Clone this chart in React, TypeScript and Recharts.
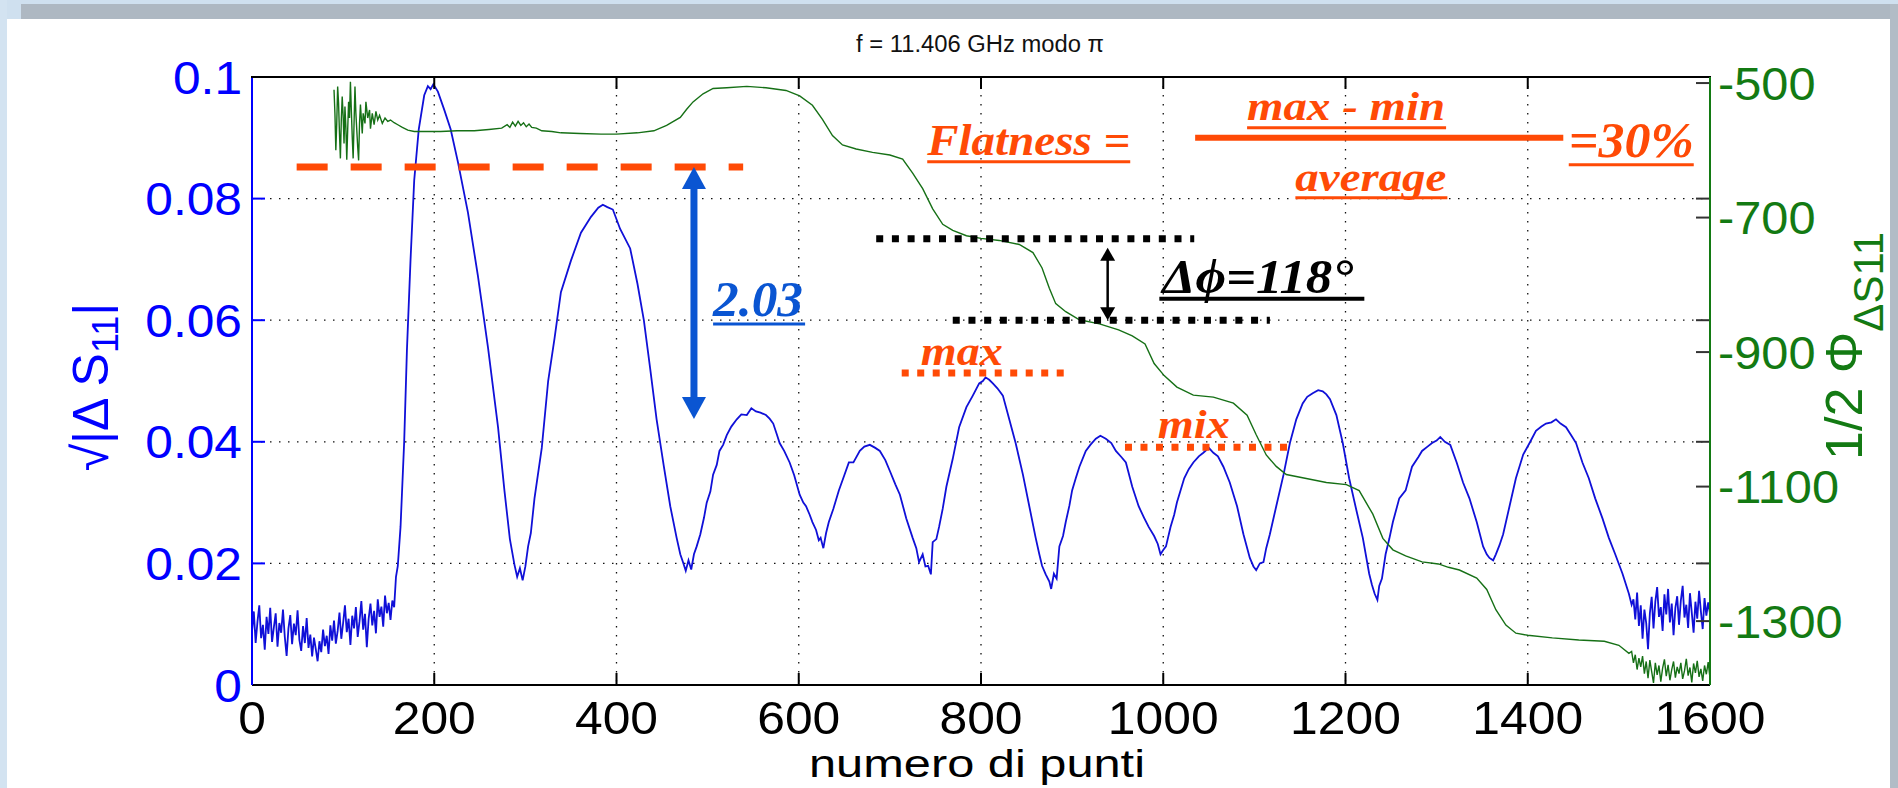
import React from "react";
import {
  LineChart,
  Line,
  XAxis,
  YAxis,
  CartesianGrid,
  ReferenceLine,
  ReferenceDot,
} from "recharts";

const W = 1898;
const H = 788;
const PLOT = { left: 252, right: 1710, top: 77, bottom: 685 };
const LEFT_AXIS_W = 100;
const RIGHT_AXIS_W = 100;
const X_AXIS_H = 60;

const SANS = "'Liberation Sans', Arial, Helvetica, sans-serif";
const SERIF = "'Liberation Serif', 'Times New Roman', serif";
const ORANGE = "#FF4A06";
const ARROW_BLUE = "#0A55D2";
const AX_BLUE = "#0000FF";
const AX_GREEN = "#137A13";

// axes
const xDomain = [0, 1600];
const xTicks = [0, 200, 400, 600, 800, 1000, 1200, 1400, 1600];
const leftDomain = [0, 0.1];
const leftTicks = [0, 0.02, 0.04, 0.06, 0.08, 0.1];
const rightTicks = [-1300, -1100, -900, -700, -500];
const rightDomain = [-1395, -491];

// sqrt|dS11| (punto, valore)
const blueX = [
  0, 2, 4, 6, 8, 10, 12, 14, 16, 18, 20, 22, 24, 26, 28, 30, 32, 34, 36, 38, 40, 42, 44, 46, 48, 50,
  52, 54, 56, 58, 60, 62, 64, 66, 68, 70, 72, 74, 76, 78, 80, 82, 84, 86, 88, 90, 92, 94, 96, 98, 100,
  102, 104, 106, 108, 110, 112, 114, 116, 118, 120, 122, 124, 126, 128, 130, 132, 134, 136, 138, 140,
  142, 144, 146, 148, 150, 152, 154, 156, 158, 160, 163, 167, 170, 174, 178, 183, 189, 193, 196, 199,
  204, 211, 218, 226, 237, 248, 259, 270, 277, 283, 288, 291, 294, 297, 300, 303, 306, 310, 318, 325,
  332, 339, 350, 361, 372, 380, 385, 390, 396, 404, 415, 423, 430, 437, 444, 452, 459, 466, 470, 473,
  476, 479, 482, 485, 488, 492, 496, 499, 503, 506, 510, 513, 517, 521, 526, 532, 537, 543, 548, 553,
  558, 564, 568, 572, 576, 579, 584, 590, 595, 601, 605, 608, 612, 615, 619, 622, 624, 627, 630, 633,
  638, 644, 650, 655, 660, 667, 672, 678, 684, 689, 695, 700, 706, 711, 718, 725, 729, 732, 736, 739,
  742, 745, 747, 751, 754, 758, 762, 769, 776, 784, 791, 798, 802, 805, 809, 813, 818, 824, 831, 838,
  846, 853, 860, 864, 867, 871, 875, 877, 880, 883, 886, 890, 893, 897, 900, 904, 908, 915, 920, 926,
  931, 937, 943, 948, 954, 959, 966, 973, 979, 984, 990, 994, 997, 1000, 1003, 1008, 1012, 1015, 1023,
  1028, 1033, 1039, 1044, 1050, 1055, 1060, 1066, 1073, 1081, 1088, 1095, 1099, 1102, 1106, 1110, 1113,
  1117, 1124, 1132, 1139, 1146, 1153, 1158, 1164, 1170, 1175, 1179, 1183, 1190, 1197, 1204, 1212, 1219,
  1226, 1229, 1232, 1235, 1237, 1240, 1244, 1248, 1252, 1259, 1266, 1273, 1280, 1284, 1290, 1295, 1300,
  1304, 1309, 1315, 1322, 1329, 1336, 1344, 1351, 1355, 1358, 1362, 1365, 1369, 1373, 1380, 1387, 1395,
  1402, 1409, 1415, 1420, 1426, 1431, 1436, 1442, 1448, 1453, 1460, 1467, 1474, 1482, 1489, 1496, 1504,
  1511, 1514, 1516, 1518, 1520, 1522, 1524, 1526, 1528, 1530, 1532, 1534, 1536, 1538, 1540, 1542, 1544,
  1546, 1548, 1550, 1552, 1554, 1556, 1558, 1560, 1562, 1564, 1566, 1568, 1570, 1572, 1574, 1576, 1578,
  1580, 1582, 1584, 1586, 1588, 1590, 1592, 1594, 1596, 1598, 1600,
];
const blueY = [
  0.0088, 0.0121, 0.0069, 0.0104, 0.0131, 0.0077, 0.0099, 0.0058, 0.0112, 0.0084, 0.0127, 0.0071,
  0.0095, 0.0118, 0.0063, 0.0102, 0.0086, 0.0124, 0.0079, 0.0048, 0.0093, 0.0115, 0.0067, 0.0101,
  0.0082, 0.0123, 0.0074, 0.0056, 0.0097, 0.0069, 0.011, 0.0061, 0.0083, 0.0047, 0.0078, 0.0059,
  0.0039, 0.0072, 0.0054, 0.0091, 0.0064, 0.0081, 0.0051, 0.0098, 0.0073, 0.0106, 0.0068, 0.0089,
  0.0119, 0.0076, 0.0102, 0.0131, 0.0087, 0.0109, 0.0066, 0.0114, 0.0093, 0.0128, 0.0079, 0.0105,
  0.0138, 0.0091, 0.0117, 0.0062, 0.0109, 0.0134, 0.0098, 0.0122, 0.0085, 0.0141, 0.0112, 0.0129,
  0.0096, 0.0147, 0.0118, 0.0135, 0.0107, 0.0139, 0.0128, 0.0178, 0.0196, 0.026, 0.04, 0.055, 0.07,
  0.083, 0.0914, 0.097, 0.0985, 0.098, 0.0988, 0.0976, 0.0946, 0.0914, 0.086, 0.0777, 0.0672, 0.0555,
  0.0424, 0.032, 0.024, 0.0198, 0.0178, 0.0192, 0.0172, 0.0195, 0.0228, 0.025, 0.0307, 0.039, 0.05,
  0.057, 0.0646, 0.0698, 0.0744, 0.077, 0.0785, 0.079, 0.0786, 0.0782, 0.075, 0.0718, 0.066, 0.06,
  0.052, 0.0437, 0.0359, 0.0294, 0.0242, 0.0215, 0.0202, 0.0188, 0.0205, 0.019, 0.0215, 0.0228,
  0.0248, 0.0275, 0.03, 0.0318, 0.0346, 0.0362, 0.0385, 0.0395, 0.0411, 0.0425, 0.0437, 0.0445,
  0.0444, 0.0455, 0.045, 0.0448, 0.0444, 0.0438, 0.043, 0.0412, 0.0398, 0.0385, 0.0366, 0.0345,
  0.0313, 0.03, 0.0294, 0.028, 0.0268, 0.0255, 0.0238, 0.0242, 0.0225, 0.025, 0.0268, 0.029, 0.032,
  0.0345, 0.0366, 0.0366, 0.0385, 0.0392, 0.0395, 0.039, 0.0385, 0.037, 0.0352, 0.033, 0.0313, 0.0274,
  0.0242, 0.0225, 0.0202, 0.0215, 0.0195, 0.0196, 0.0182, 0.0235, 0.024, 0.026, 0.029, 0.0326, 0.0372,
  0.0424, 0.0457, 0.0476, 0.0496, 0.05, 0.0506, 0.0502, 0.0496, 0.0488, 0.0476, 0.0437, 0.0398, 0.0346,
  0.0294, 0.0242, 0.0215, 0.0196, 0.0182, 0.017, 0.0158, 0.0183, 0.0175, 0.0228, 0.0245, 0.0268,
  0.0295, 0.032, 0.034, 0.0359, 0.0385, 0.0395, 0.0405, 0.041, 0.0405, 0.0398, 0.0385, 0.0375, 0.0366,
  0.0326, 0.0294, 0.0275, 0.026, 0.0245, 0.0232, 0.0215, 0.0222, 0.0228, 0.026, 0.028, 0.03, 0.034,
  0.0355, 0.0366, 0.0376, 0.0382, 0.039, 0.0382, 0.0376, 0.0359, 0.0333, 0.0294, 0.0248, 0.0209,
  0.0195, 0.0189, 0.02, 0.0202, 0.0225, 0.0248, 0.0294, 0.0346, 0.0398, 0.0437, 0.0463, 0.0474, 0.048,
  0.0485, 0.0483, 0.0478, 0.047, 0.0444, 0.0398, 0.034, 0.0287, 0.0242, 0.0183, 0.0165, 0.015, 0.014,
  0.0163, 0.0175, 0.0215, 0.024, 0.0268, 0.0307, 0.032, 0.0359, 0.0375, 0.0385, 0.0392, 0.0398, 0.0402,
  0.0408, 0.04, 0.0395, 0.0366, 0.0333, 0.0307, 0.0268, 0.0228, 0.0215, 0.0209, 0.0205, 0.0215, 0.023,
  0.0248, 0.0294, 0.034, 0.0379, 0.0398, 0.0418, 0.0425, 0.043, 0.0432, 0.0437, 0.043, 0.0424, 0.041,
  0.0398, 0.0366, 0.034, 0.0307, 0.0274, 0.0242, 0.0215, 0.0183, 0.015, 0.0132, 0.0141, 0.0108, 0.0152,
  0.0097, 0.0131, 0.0076, 0.0124, 0.0102, 0.0059, 0.0118, 0.0145, 0.0093, 0.0137, 0.0161, 0.0112,
  0.0128, 0.0089, 0.0149, 0.0116, 0.0158, 0.0103, 0.0134, 0.0082, 0.0127, 0.0146, 0.0099, 0.0139,
  0.0163, 0.0111, 0.0132, 0.0094, 0.0151, 0.0119, 0.0086, 0.0137, 0.0109, 0.0155, 0.0121, 0.0092,
  0.0143, 0.0114, 0.0136, 0.0118,
];

// 1/2 fase (punto, gradi)
const greenX = [
  90, 91, 92, 93, 94, 95, 96, 97, 98, 99, 100, 101, 102, 103, 104, 105, 106, 107, 108, 109, 110, 111,
  112, 113, 114, 116, 117, 118, 119, 121, 122, 124, 125, 127, 129, 130, 132, 134, 136, 138, 140, 143,
  146, 149, 152, 156, 160, 165, 171, 178, 190, 207, 225, 244, 260, 274, 280, 283, 286, 289, 292, 295,
  298, 301, 304, 307, 312, 318, 329, 339, 360, 383, 400, 423, 441, 455, 470, 477, 484, 495, 506, 521,
  543, 564, 586, 601, 615, 626, 637, 648, 663, 681, 700, 714, 725, 736, 747, 758, 769, 784, 800, 820,
  842, 857, 867, 875, 882, 893, 908, 930, 951, 966, 980, 990, 1001, 1015, 1033, 1055, 1077, 1092, 1102,
  1113, 1124, 1135, 1157, 1179, 1201, 1215, 1230, 1241, 1252, 1266, 1284, 1302, 1313, 1325, 1344, 1355,
  1365, 1376, 1387, 1400, 1427, 1456, 1484, 1500, 1511, 1514, 1516, 1518, 1520, 1522, 1524, 1526, 1528,
  1530, 1532, 1534, 1536, 1538, 1540, 1542, 1544, 1546, 1548, 1550, 1552, 1554, 1556, 1558, 1560, 1562,
  1564, 1566, 1568, 1570, 1572, 1574, 1576, 1578, 1580, 1582, 1584, 1586, 1588, 1590, 1592, 1594, 1596,
  1598, 1600,
];
const greenY = [
  -510, -545, -600, -560, -505, -530, -575, -612, -555, -520, -548, -590, -535, -565, -614, -570, -528,
  -552, -498, -540, -580, -612, -560, -505, -545, -595, -615, -560, -532, -575, -545, -560, -528, -552,
  -540, -568, -545, -562, -542, -555, -548, -560, -552, -557, -555, -559, -562, -566, -570, -572, -572,
  -572, -571, -571, -569, -567, -562, -566, -558, -564, -557, -563, -559, -565, -561, -566, -567, -571,
  -572, -574, -575, -576, -576, -574, -571, -563, -551, -539, -528, -516, -508, -507, -505, -507, -511,
  -519, -533, -554, -578, -592, -598, -603, -607, -613, -634, -657, -687, -710, -719, -727, -731, -734,
  -740, -752, -775, -805, -828, -840, -852, -858, -867, -876, -888, -917, -935, -952, -964, -967, -976,
  -994, -1023, -1053, -1070, -1082, -1088, -1094, -1097, -1106, -1141, -1177, -1194, -1203, -1212,
  -1215, -1220, -1224, -1236, -1253, -1283, -1306, -1318, -1321, -1325, -1328, -1330, -1336, -1348,
  -1345, -1362, -1350, -1372, -1355, -1368, -1352, -1378, -1360, -1385, -1358, -1375, -1392, -1362,
  -1380, -1366, -1390, -1370, -1357, -1382, -1365, -1388, -1372, -1360, -1384, -1368, -1378, -1362,
  -1386, -1374, -1356, -1381, -1369, -1391, -1363, -1377, -1359, -1383, -1371, -1389, -1366, -1379,
  -1361, -1385, -1374,
];

// linear positions along the plot box, for the box ticks only
const lerp = (v: number, d: number[], a: number, b: number) => a + ((v - d[0]) / (d[1] - d[0])) * (b - a);
const boxX = (v: number) => lerp(v, xDomain, PLOT.left, PLOT.right);
const boxYL = (v: number) => lerp(v, leftDomain, PLOT.bottom, PLOT.top);
const boxYR = (v: number) => lerp(v, rightDomain, PLOT.bottom, PLOT.top);

const LeftTick = ({ x, y, payload }: any) => (
  <text
    transform={`translate(${x},${y}) scale(1.08,1)`}
    textAnchor="end"
    dy="0.36em"
    fill={AX_BLUE}
    fontSize={46}
    fontFamily={SANS}
  >
    {payload.value}
  </text>
);

const RightTick = ({ x, y, payload }: any) => (
  <text
    transform={`translate(${x},${y}) scale(1.06,1)`}
    textAnchor="start"
    dy="0.36em"
    fill={AX_GREEN}
    fontSize={46}
    fontFamily={SANS}
  >
    {payload.value}
  </text>
);

const BottomTick = ({ x, y, payload }: any) => (
  <text
    transform={`translate(${x},${y + 34}) scale(1.06,1)`}
    textAnchor="middle"
    fill="#000"
    fontSize={47}
    fontFamily={SANS}
  >
    {payload.value}
  </text>
);

const annoText =
  (text: string, size: number, width: number, color: string, under?: [number, number, number, number]) =>
  (p: any) =>
    (
      <g>
        <text
          x={p.cx}
          y={p.cy}
          fontFamily={SERIF}
          fontWeight="bold"
          fontStyle="italic"
          fontSize={size}
          fill={color}
          textLength={width}
          lengthAdjust="spacingAndGlyphs"
        >
          {text}
        </text>
        {under && (
          <line
            x1={p.cx + under[0]}
            x2={p.cx + under[1]}
            y1={p.cy + under[2]}
            y2={p.cy + under[2]}
            stroke={color}
            strokeWidth={under[3]}
          />
        )}
      </g>
    );

const doubleArrow = (color: string, shaft: number, headW: number, headL: number) => (p: any) => {
  const x = p.x1;
  const top = Math.min(p.y1, p.y2);
  const bot = Math.max(p.y1, p.y2);
  return (
    <g>
      <line x1={x} x2={x} y1={top + headL - 1} y2={bot - headL + 1} stroke={color} strokeWidth={shaft} />
      <polygon points={`${x},${top} ${x - headW},${top + headL} ${x + headW},${top + headL}`} fill={color} />
      <polygon points={`${x},${bot} ${x - headW},${bot - headL} ${x + headW},${bot - headL}`} fill={color} />
    </g>
  );
};

// MATLAB-style box: top edge plus inward ticks on all four sides
const Frame = () => (
  <g>
    <line x1={PLOT.left - 1} x2={PLOT.right + 1} y1={PLOT.top} y2={PLOT.top} stroke="#000" strokeWidth={2} />
    {xTicks.slice(1, -1).map((v) => (
      <g key={`x${v}`}>
        <line x1={boxX(v)} x2={boxX(v)} y1={PLOT.top} y2={PLOT.top + 12} stroke="#000" strokeWidth={2} />
        <line x1={boxX(v)} x2={boxX(v)} y1={PLOT.bottom} y2={PLOT.bottom - 12} stroke="#000" strokeWidth={2} />
      </g>
    ))}
    {leftTicks.slice(1, -1).map((v) => (
      <g key={`l${v}`}>
        <line x1={PLOT.left} x2={PLOT.left + 13} y1={boxYL(v)} y2={boxYL(v)} stroke={AX_BLUE} strokeWidth={2} />
        <line x1={PLOT.right} x2={PLOT.right - 14} y1={boxYL(v)} y2={boxYL(v)} stroke="#333" strokeWidth={2} />
      </g>
    ))}
    {rightTicks.map((v) => (
      <line key={`r${v}`} x1={PLOT.right} x2={PLOT.right - 14} y1={boxYR(v)} y2={boxYR(v)} stroke="#333" strokeWidth={2} />
    ))}
  </g>
);

const XTitle = () => (
  <text x={977} y={777} textAnchor="middle" fontSize={39} fontFamily={SANS} fill="#000" textLength={336} lengthAdjust="spacingAndGlyphs">
    numero di punti
  </text>
);

// left axis title + plot title + box
const LeftTitle = () => (
  <g>
    <Frame />
    <text x={980} y={52} textAnchor="middle" fontSize={23} fontFamily={SANS} fill="#111" textLength={248} lengthAdjust="spacingAndGlyphs">
      f = 11.406 GHz modo π
    </text>
    <text transform="translate(108,387) rotate(-90)" textAnchor="middle" fill={AX_BLUE} fontSize={50} fontFamily={SANS}>
      √|Δ S
      <tspan dy={10} fontSize={36}>
        11
      </tspan>
      <tspan dy={-10}>|</tspan>
    </text>
  </g>
);

const RightTitle = () => (
  <text transform="translate(1862,232) rotate(-90)" textAnchor="end" fill={AX_GREEN} fontSize={52} fontFamily={SANS}>
    1/2 Φ
    <tspan dy={21} fontSize={42}>
      ΔS11
    </tspan>
  </text>
);

export default function App() {
  const blueData = blueX.map((x, i) => ({ x, v: blueY[i] }));
  const greenData = greenX.map((x, i) => ({ x, p: greenY[i] }));

  return (
    <div style={{ position: "absolute", left: 0, top: 0, width: W, height: H, background: "#fff", overflow: "hidden" }}>
      <div style={{ position: "absolute", left: 0, top: 0, width: W, height: 4, background: "#CFE0EF" }} />
      <div style={{ position: "absolute", left: 0, top: 0, width: 7, height: H, background: "#D3E3F1" }} />
      <div style={{ position: "absolute", left: 7, top: 4, width: 14, height: 15, background: "#CFE0EF" }} />
      <div style={{ position: "absolute", left: 21, top: 4, width: W - 21, height: 15, background: "#AEB8C2" }} />
      <div style={{ position: "absolute", left: 1890, top: 4, width: 8, height: H - 4, background: "#B2BCC6" }} />

      <LineChart
        width={W}
        height={H}
        margin={{
          top: PLOT.top,
          right: W - PLOT.right - RIGHT_AXIS_W,
          bottom: H - PLOT.bottom - X_AXIS_H,
          left: PLOT.left - LEFT_AXIS_W,
        }}
        style={{ position: "absolute", left: 0, top: 0 }}
      >
        <CartesianGrid
          xAxisId="bottom"
          yAxisId="left"
          stroke="#111"
          strokeWidth={1.3}
          strokeDasharray="1.5 7.5"
        />
        <XAxis
          xAxisId="bottom"
          dataKey="x"
          type="number"
          domain={xDomain}
          ticks={xTicks}
          interval={0}
          height={X_AXIS_H}
          tick={BottomTick}
          tickLine={false}
          tickSize={0}
          tickMargin={15}
          axisLine={{ stroke: "#000", strokeWidth: 2 }}
          allowDataOverflow
          label={<XTitle />}
        />
        <YAxis
          yAxisId="left"
          domain={leftDomain}
          ticks={leftTicks}
          interval={0}
          width={LEFT_AXIS_W}
          tick={LeftTick}
          tickLine={false}
          tickSize={0}
          tickMargin={10}
          axisLine={{ stroke: AX_BLUE, strokeWidth: 2 }}
          allowDataOverflow
          label={<LeftTitle />}
        />
        <YAxis
          yAxisId="right"
          orientation="right"
          domain={rightDomain}
          ticks={rightTicks}
          interval={0}
          width={RIGHT_AXIS_W}
          tick={RightTick}
          tickLine={false}
          tickSize={0}
          tickMargin={8}
          axisLine={{ stroke: AX_GREEN, strokeWidth: 2 }}
          allowDataOverflow
          label={<RightTitle />}
        />

        <Line
          data={blueData}
          dataKey="v"
          xAxisId="bottom"
          yAxisId="left"
          type="linear"
          stroke="#1010D8"
          strokeWidth={1.8}
          dot={false}
          isAnimationActive={false}
        />
        <Line
          data={greenData}
          dataKey="p"
          xAxisId="bottom"
          yAxisId="right"
          type="linear"
          stroke="#167016"
          strokeWidth={1.4}
          dot={false}
          isAnimationActive={false}
        />

        {/* annotazioni */}
        <ReferenceLine
          xAxisId="bottom"
          yAxisId="left"
          segment={[{ x: 49, y: 0.0852 }, { x: 539, y: 0.0852 }]}
          stroke={ORANGE}
          strokeWidth={7}
          strokeDasharray="31 23"
        />
        <ReferenceLine
          xAxisId="bottom"
          yAxisId="left"
          segment={[{ x: 485, y: 0.0852 }, { x: 485, y: 0.04375 }]}
          shape={doubleArrow(ARROW_BLUE, 7, 12, 22)}
        />
        <ReferenceLine
          xAxisId="bottom"
          yAxisId="left"
          segment={[{ x: 685, y: 0.0734 }, { x: 1034, y: 0.0734 }]}
          stroke="#000"
          strokeWidth={7}
          strokeDasharray="7 8.7"
        />
        <ReferenceLine
          xAxisId="bottom"
          yAxisId="left"
          segment={[{ x: 769, y: 0.06 }, { x: 1117, y: 0.06 }]}
          stroke="#000"
          strokeWidth={7}
          strokeDasharray="7 8.7"
        />
        <ReferenceLine
          xAxisId="bottom"
          yAxisId="left"
          segment={[{ x: 939, y: 0.0719 }, { x: 939, y: 0.06 }]}
          shape={doubleArrow("#000", 2.5, 7.5, 13)}
        />
        <ReferenceLine
          xAxisId="bottom"
          yAxisId="left"
          segment={[{ x: 713, y: 0.0513 }, { x: 892, y: 0.0513 }]}
          stroke={ORANGE}
          strokeWidth={7}
          strokeDasharray="7 8.5"
        />
        <ReferenceLine
          xAxisId="bottom"
          yAxisId="left"
          segment={[{ x: 958, y: 0.0391 }, { x: 1137, y: 0.0391 }]}
          stroke={ORANGE}
          strokeWidth={7}
          strokeDasharray="7 8.5"
        />
        <ReferenceLine
          xAxisId="bottom"
          yAxisId="left"
          segment={[{ x: 1035, y: 0.09 }, { x: 1439, y: 0.09 }]}
          stroke={ORANGE}
          strokeWidth={6}
        />

        <ReferenceDot xAxisId="bottom" yAxisId="left" x={506} y={0.0607} r={0}
          shape={annoText("2.03", 50, 90, ARROW_BLUE, [0, 92, 8, 3])} />
        <ReferenceDot xAxisId="bottom" yAxisId="left" x={999} y={0.0645} r={0}
          shape={annoText("Δϕ=118°", 48, 191, "#000", [-3, 202, 6, 4])} />
        <ReferenceDot xAxisId="bottom" yAxisId="left" x={734} y={0.0526} r={0}
          shape={annoText("max", 40, 82, ORANGE)} />
        <ReferenceDot xAxisId="bottom" yAxisId="left" x={994} y={0.0406} r={0}
          shape={annoText("mix", 40, 72, ORANGE)} />
        <ReferenceDot xAxisId="bottom" yAxisId="left" x={741} y={0.0872} r={0}
          shape={annoText("Flatness =", 44, 203, ORANGE, [0, 203, 7, 3])} />
        <ReferenceDot xAxisId="bottom" yAxisId="left" x={1092} y={0.0929} r={0}
          shape={annoText("max - min", 40, 198, ORANGE, [0, 199, 7.5, 3])} />
        <ReferenceDot xAxisId="bottom" yAxisId="left" x={1145} y={0.0813} r={0}
          shape={annoText("average", 40, 151, ORANGE, [0, 152, 7, 3])} />
        <ReferenceDot xAxisId="bottom" yAxisId="left" x={1445} y={0.0868} r={0}
          shape={annoText("=30%", 50, 125, ORANGE, [0, 125, 7.5, 3])} />
      </LineChart>
    </div>
  );
}
